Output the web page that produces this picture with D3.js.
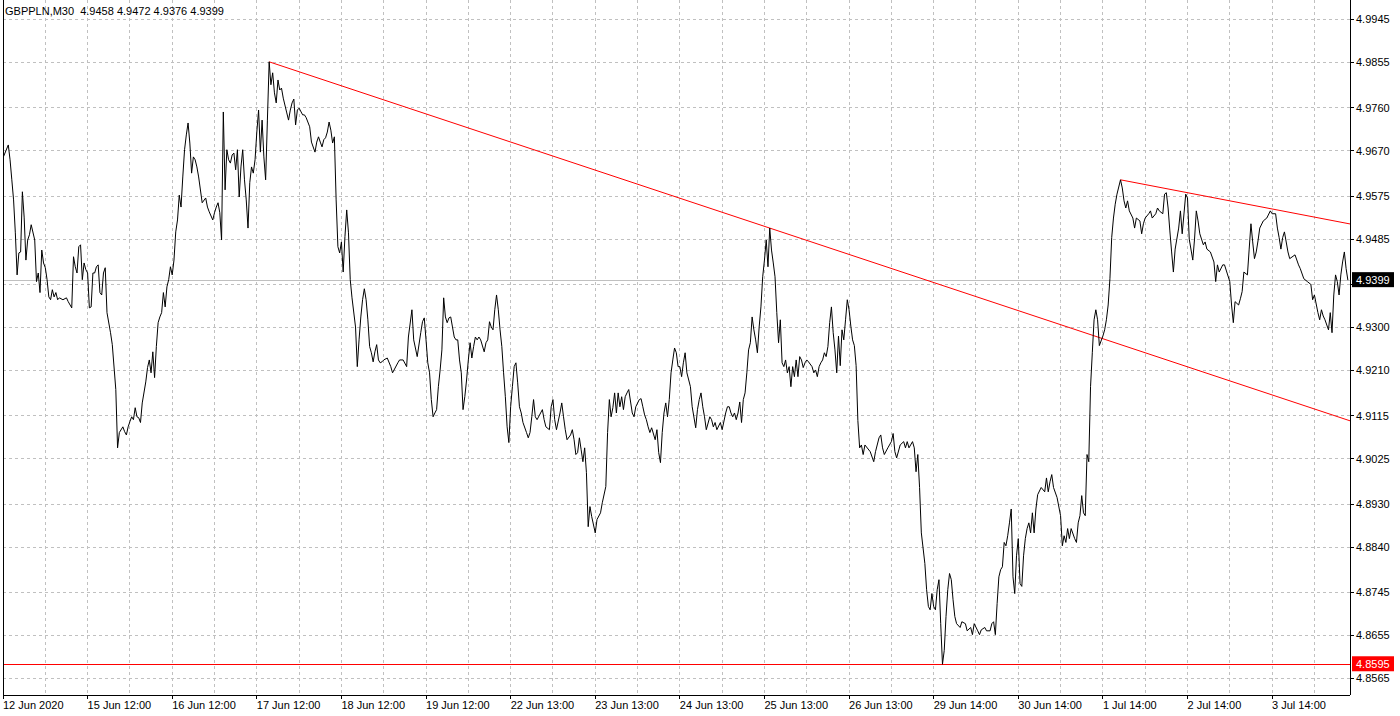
<!DOCTYPE html>
<html lang="en">
<head>
<meta charset="utf-8">
<title>GBPPLN,M30</title>
<script src="https://d3js.org/d3.v7.min.js"></script>
<style>
  body { margin: 0; background: #fff; }
  svg { display: block; font-family: "Liberation Sans", Arial, sans-serif; font-size: 11px; }
  .grid line { stroke: #c0c0c0; stroke-width: 1; stroke-dasharray: 3,3; shape-rendering: crispEdges; }
  .frame line, .ticks line { stroke: #000; stroke-width: 1; shape-rendering: crispEdges; }
  .bid { stroke: #c0c0c0; stroke-width: 1; shape-rendering: crispEdges; }
  .series { fill: none; stroke: #000; stroke-width: 1; }
  .trend { stroke: #ff0000; stroke-width: 1; fill: none; }
  .level { stroke: #ff0000; stroke-width: 1; shape-rendering: crispEdges; }
  .lbl { fill: #000; }
  .title { white-space: pre; }
</style>
</head>
<body>
<div id="vis"></div>
<script>

/* Data */
/* ==== */

const symbolTitle = "GBPPLN,M30  4.9458 4.9472 4.9376 4.9399";

// M30 bar number (0 = first visible bar) and close price
const barIndex = [
  0,3,4,5,6,7,8,9,10,11,12,13,14,15,16,18,19,20,21,22,23,24,25,26,27,28,29,30,31,32,34,36,37,39,40,41,42,43,44,45,46,47,48,49,
  50,51,52,53,54,55,56,57,58,59,61,62,64,65,66,68,69,70,71,72,73,74,75,76,77,78,79,81,82,83,84,85,86,87,88,89,90,91,92,93,94,95,96,97,98,99,
  100,101,102,103,104,105,106,107,108,109,110,111,113,115,116,117,119,120,121,122,123,124,125,126,127,128,129,130,131,132,133,134,135,136,137,138,139,140,141,142,143,144,145,146,147,148,149,
  150,151,152,153,154,155,156,157,158,159,161,162,163,164,165,166,167,168,170,171,172,174,175,177,178,179,180,181,182,183,184,185,186,187,188,189,190,191,192,193,194,195,196,197,198,
  200,201,202,203,204,205,206,207,208,209,210,211,212,213,214,215,216,218,220,221,224,225,227,229,230,232,233,235,237,238,239,240,241,242,243,244,245,246,247,248,249,
  250,251,252,253,254,255,256,257,258,259,260,261,262,263,264,265,266,267,268,269,270,271,273,274,275,276,277,278,279,280,281,282,283,284,285,286,287,288,289,290,291,292,293,294,295,297,298,299,
  300,301,302,303,305,306,307,308,310,311,312,313,314,316,317,318,319,320,322,323,324,325,326,327,328,329,330,331,332,333,334,336,337,339,340,342,343,344,345,346,347,348,349,
  350,351,352,353,354,355,357,358,359,361,362,363,364,365,366,367,368,370,371,372,373,374,375,376,377,378,379,380,381,382,383,384,385,386,387,388,390,391,393,394,395,396,397,398,399,
  401,402,403,404,405,407,408,410,411,412,413,414,415,416,417,418,419,420,421,422,423,424,425,426,427,428,429,430,431,432,433,434,435,436,437,438,439,440,441,442,443,444,445,446,447,448,449,
  450,451,452,453,454,455,456,457,459,460,461,462,463,464,465,466,467,468,469,470,471,472,473,474,475,476,477,478,479,480,481,482,483,484,485,486,487,488,489,492,494,495,497,498,499,
  500,502,504,505,506,507,509,511,512,513,514,516,517,518,519,520,521,523,524,525,526,527,528,529,530,531,532,533,534,535,536,537,538,539,540,541,543,544,546,547,549,
  550,551,553,554,555,557,558,560,561,562,563,564,565,566,567,568,569,570,571,572,573,574,575,576,577,578,579,580,581,582,583,584,585,586,587,589,591,592,593,594,595,596,598,
  600,601,602,603,604,605,606,608,609,610,611,612,613,614,615,616,617,618,619,620,621,622,624,625,626,627,628,629,630,631,632,634,635,636,637,638,639,641,642,643,645,646,647,648,
  650,651,652,654,655,656,658,659,660,661,662,663,664,665,667,668,669,671,672,673,675,676,677,678,679,681,682,683,685,687,688,689,690,692,693,696,697,698,699,
  701,702,703,704,706,707,708,709,710,711,712,713,715,717,719,720,722,723,724,725,726,727,729,730,733,735,736,738,740,742,743,744,746,747,748,749,
  750,752,753,754,755,756,757,758,759,760,761,762,763
];

const closePrice = [
  4.9655,4.9682,4.9651,4.9609,4.9567,4.9498,4.9410,4.9456,4.9458,4.9584,4.9531,4.9441,4.9483,4.9494,4.9515,4.9483,4.9396,4.9414,4.9373,4.9462,4.9435,4.9425,4.9400,4.9364,4.9358,4.9379,4.9364,4.9373,4.9358,4.9362,4.9358,4.9362,4.9354,4.9341,4.9448,4.9427,4.9414,4.9469,4.9473,4.9400,4.9435,4.9421,4.9414,4.9341,
  4.9343,4.9414,4.9414,4.9427,4.9431,4.9373,4.9368,4.9414,4.9425,4.9331,4.9289,4.9264,4.9170,4.9048,4.9080,4.9092,4.9082,4.9075,4.9092,4.9103,4.9113,4.9107,4.9132,4.9113,4.9111,4.9101,4.9142,4.9186,4.9216,4.9232,4.9205,4.9249,4.9195,4.9260,4.9310,4.9322,4.9331,4.9373,4.9343,4.9385,4.9400,4.9427,4.9410,4.9441,4.9500,4.9525,
  4.9577,4.9552,4.9615,4.9672,4.9703,4.9728,4.9686,4.9623,4.9657,4.9651,4.9636,4.9615,4.9561,4.9571,4.9552,4.9542,4.9525,4.9540,4.9552,4.9561,4.9540,4.9483,4.9751,4.9588,4.9672,4.9651,4.9644,4.9661,4.9665,4.9630,4.9672,4.9573,4.9636,4.9672,4.9609,4.9567,4.9508,4.9603,4.9636,4.9623,4.9651,4.9709,4.9755,4.9667,4.9734,4.9657,4.9609,
  4.9734,4.9856,4.9808,4.9833,4.9791,4.9770,4.9818,4.9797,4.9801,4.9780,4.9749,4.9734,4.9755,4.9770,4.9778,4.9724,4.9755,4.9759,4.9745,4.9745,4.9739,4.9720,4.9688,4.9667,4.9688,4.9699,4.9688,4.9678,4.9693,4.9697,4.9709,4.9730,4.9713,4.9686,4.9699,4.9567,4.9469,4.9456,4.9479,4.9416,4.9490,4.9546,4.9498,4.9400,4.9362,
  4.9301,4.9218,4.9274,4.9322,4.9358,4.9381,4.9358,4.9316,4.9260,4.9247,4.9228,4.9249,4.9264,4.9232,4.9226,4.9228,4.9232,4.9236,4.9218,4.9205,4.9226,4.9232,4.9232,4.9218,4.9280,4.9337,4.9274,4.9239,4.9289,4.9312,4.9320,4.9274,4.9226,4.9205,4.9149,4.9113,4.9121,4.9128,4.9176,4.9211,4.9253,
  4.9362,4.9322,4.9310,4.9320,4.9322,4.9301,4.9280,4.9274,4.9274,4.9232,4.9205,4.9128,4.9155,4.9190,4.9232,4.9268,4.9236,4.9260,4.9280,4.9274,4.9280,4.9274,4.9249,4.9268,4.9274,4.9312,4.9301,4.9295,4.9337,4.9368,4.9337,4.9295,4.9260,4.9205,4.9155,4.9092,4.9059,4.9134,4.9176,4.9218,4.9226,4.9184,4.9134,4.9121,4.9101,4.9080,4.9069,4.9080,
  4.9113,4.9149,4.9113,4.9107,4.9121,4.9128,4.9107,4.9092,4.9086,4.9134,4.9149,4.9107,4.9086,4.9121,4.9142,4.9113,4.9086,4.9065,4.9075,4.9086,4.9065,4.9034,4.9038,4.9069,4.9044,4.9019,4.9048,4.8996,4.8883,4.8925,4.8904,4.8870,4.8898,4.8912,4.8933,4.8967,4.9080,4.9149,4.9113,4.9132,4.9163,4.9121,4.9163,
  4.9134,4.9155,4.9128,4.9155,4.9163,4.9170,4.9121,4.9113,4.9134,4.9149,4.9151,4.9134,4.9117,4.9107,4.9092,4.9080,4.9090,4.9065,4.9086,4.9038,4.9017,4.9080,4.9121,4.9142,4.9113,4.9149,4.9205,4.9232,4.9257,4.9247,4.9218,4.9218,4.9197,4.9226,4.9247,4.9205,4.9176,4.9134,4.9090,4.9128,4.9149,4.9163,4.9134,4.9113,4.9086,
  4.9113,4.9107,4.9092,4.9101,4.9086,4.9101,4.9086,4.9121,4.9134,4.9134,4.9121,4.9113,4.9121,4.9107,4.9121,4.9144,4.9101,4.9149,4.9163,4.9205,4.9253,4.9268,4.9322,4.9295,4.9274,4.9247,4.9301,4.9343,4.9406,4.9441,4.9483,4.9427,4.9508,4.9462,4.9435,4.9406,4.9331,4.9268,4.9316,4.9226,4.9218,4.9232,4.9205,4.9218,4.9176,4.9218,4.9197,
  4.9232,4.9197,4.9239,4.9232,4.9216,4.9226,4.9232,4.9228,4.9218,4.9205,4.9211,4.9197,4.9218,4.9226,4.9232,4.9247,4.9239,4.9260,4.9310,4.9343,4.9289,4.9253,4.9205,4.9282,4.9220,4.9295,4.9274,4.9316,4.9358,4.9337,4.9303,4.9274,4.9262,4.9220,4.9105,4.9048,4.9054,4.9034,4.9054,4.9040,4.9019,4.9040,4.9069,4.9075,4.9048,
  4.9034,4.9048,4.9061,4.9078,4.9040,4.9027,4.9054,4.9061,4.9048,4.9061,4.9048,4.9061,4.9048,4.8998,4.9034,4.8965,4.8870,4.8806,4.8751,4.8716,4.8709,4.8743,4.8716,4.8709,4.8751,4.8772,4.8680,4.8595,4.8624,4.8695,4.8751,4.8785,4.8772,4.8730,4.8695,4.8680,4.8672,4.8684,4.8680,4.8665,4.8672,
  4.8657,4.8680,4.8665,4.8657,4.8667,4.8672,4.8665,4.8665,4.8680,4.8684,4.8657,4.8722,4.8778,4.8793,4.8799,4.8850,4.8843,4.8864,4.8891,4.8920,4.8778,4.8743,4.8822,4.8858,4.8764,4.8758,4.8822,4.8858,4.8879,4.8891,4.8870,4.8912,4.8870,4.8920,4.8950,4.8965,4.8956,4.8985,4.8956,4.8977,4.8992,4.8965,4.8944,
  4.8906,4.8843,4.8864,4.8850,4.8879,4.8858,4.8879,4.8858,4.8850,4.8891,4.8906,4.8948,4.8912,4.8906,4.9034,4.9019,4.9176,4.9247,4.9316,4.9337,4.9316,4.9262,4.9282,4.9295,4.9316,4.9347,4.9402,4.9488,4.9529,4.9558,4.9579,4.9609,4.9592,4.9565,4.9550,4.9565,4.9544,4.9529,4.9508,4.9529,4.9523,4.9496,4.9517,4.9529,
  4.9538,4.9544,4.9529,4.9538,4.9550,4.9544,4.9538,4.9579,4.9582,4.9550,4.9502,4.9458,4.9416,4.9464,4.9508,4.9544,4.9496,4.9579,4.9571,4.9485,4.9441,4.9485,4.9544,4.9523,4.9496,4.9473,4.9479,4.9464,4.9458,4.9437,4.9396,4.9431,4.9416,4.9431,4.9431,4.9396,4.9347,4.9310,4.9354,
  4.9347,4.9360,4.9375,4.9416,4.9410,4.9464,4.9517,4.9479,4.9444,4.9458,4.9481,4.9508,4.9523,4.9529,4.9544,4.9538,4.9538,4.9508,4.9488,4.9464,4.9488,4.9500,4.9458,4.9444,4.9452,4.9431,4.9423,4.9402,4.9396,4.9390,4.9358,4.9368,4.9331,4.9316,4.9337,4.9324,
  4.9316,4.9295,4.9331,4.9289,4.9368,4.9410,4.9396,4.9368,4.9410,4.9437,4.9458,4.9423,4.9399
];

// Time axis labels, one every 48 bars
const timeLabels = [
  "12 Jun 2020", "15 Jun 12:00", "16 Jun 12:00", "17 Jun 12:00", "18 Jun 12:00", "19 Jun 12:00",
  "22 Jun 13:00", "23 Jun 13:00", "24 Jun 13:00", "25 Jun 13:00", "26 Jun 13:00", "29 Jun 14:00",
  "30 Jun 14:00", "1 Jul 14:00", "2 Jul 14:00", "3 Jul 14:00"
];
const barsPerLabel = 48;
const barsPerGrid = 24;

// Price scale ticks
const priceTicks = [4.9945, 4.9855, 4.9760, 4.9670, 4.9575, 4.9485, 4.9390, 4.9300,
  4.9210, 4.9115, 4.9025, 4.8930, 4.8840, 4.8745, 4.8655, 4.8565];

// Objects drawn on the chart
const bidPrice = 4.9399;
const levelPrice = 4.8595;
const trendA = [[151, 4.9856], [435, 4.9508]];   // 17 Jun high -> 25 Jun high
const trendB = [[634, 4.9609], [720, 4.9548]];   // 1 Jul high -> 3 Jul high

const visibleBars = 764.2;


/* Set up */
/* ====== */

const width = 1400, height = 716;
const plot = { left: 3, right: 1350, top: 0, bottom: 695 };

const svg = d3.select('#vis').append('svg')
  .attr('width', width)
  .attr('height', height);

const x = d3.scaleLinear().domain([0, visibleBars]).range([plot.left, plot.right]);
const y = d3.scaleLinear().domain([4.8565, 4.9945]).range([678.6, 19.3]);

const series = barIndex.map((b, i) => ({ bar: b, close: closePrice[i] }));

svg.append('defs').append('clipPath').attr('id', 'clip')
  .append('rect')
  .attr('x', plot.left).attr('y', plot.top)
  .attr('width', plot.right - plot.left).attr('height', plot.bottom - plot.top);


/* Grid */
/* ---- */

const grid = svg.append('g').attr('class', 'grid');

grid.selectAll('.gy').data(priceTicks).enter()
  .append('line')
  .attr('x1', plot.left).attr('x2', plot.right)
  .attr('y1', d => y(d)).attr('y2', d => y(d));

const gridBars = d3.range(barsPerGrid, visibleBars, barsPerGrid);
grid.selectAll('.gx').data(gridBars).enter()
  .append('line')
  .attr('x1', d => x(d)).attr('x2', d => x(d))
  .attr('y1', plot.top).attr('y2', plot.bottom);

// bid line
svg.append('line').attr('class', 'bid')
  .attr('x1', plot.left).attr('x2', plot.right)
  .attr('y1', y(bidPrice)).attr('y2', y(bidPrice));


/* Price line and objects */
/* ---------------------- */

const gChart = svg.append('g').attr('clip-path', 'url(#clip)');

gChart.append('line').attr('class', 'level')
  .attr('x1', plot.left).attr('x2', plot.right)
  .attr('y1', y(levelPrice)).attr('y2', y(levelPrice));

// trend lines run as rays to the right edge
function rayEnd(p) {
  const slope = (p[1][1] - p[0][1]) / (p[1][0] - p[0][0]);
  return [visibleBars, p[0][1] + slope * (visibleBars - p[0][0])];
}
[trendA, trendB].forEach(t => {
  const e = rayEnd(t);
  gChart.append('line').attr('class', 'trend')
    .attr('x1', x(t[0][0])).attr('y1', y(t[0][1]))
    .attr('x2', x(e[0])).attr('y2', y(e[1]));
});

const line = d3.line()
  .x(d => x(d.bar))
  .y(d => y(d.close));

gChart.append('path').datum(series)
  .attr('class', 'series')
  .attr('d', line);


/* Frame and axes */
/* -------------- */

const frame = svg.append('g').attr('class', 'frame');
frame.append('line').attr('x1', plot.left).attr('x2', plot.left).attr('y1', plot.top).attr('y2', plot.bottom);
frame.append('line').attr('x1', plot.right).attr('x2', plot.right).attr('y1', plot.top).attr('y2', plot.bottom);
frame.append('line').attr('x1', plot.left).attr('x2', plot.right).attr('y1', plot.bottom).attr('y2', plot.bottom);

const ticks = svg.append('g').attr('class', 'ticks');

// price axis
const bidY = y(bidPrice);
ticks.selectAll('.ty').data(priceTicks).enter()
  .append('line')
  .attr('x1', plot.right).attr('x2', plot.right + 4)
  .attr('y1', d => y(d)).attr('y2', d => y(d));

svg.append('g').selectAll('text')
  .data(priceTicks.filter(d => Math.abs(y(d) - bidY) > 9))
  .enter().append('text')
  .attr('class', 'lbl')
  .attr('x', plot.right + 6)
  .attr('y', d => y(d))
  .attr('dy', '0.35em')
  .text(d => d3.format('.4f')(d));

// time axis
const labelBars = timeLabels.map((t, i) => i * barsPerLabel);
ticks.selectAll('.tx').data(labelBars).enter()
  .append('line')
  .attr('x1', d => x(d)).attr('x2', d => x(d))
  .attr('y1', plot.bottom).attr('y2', plot.bottom + 4);

svg.append('g').selectAll('text')
  .data(timeLabels)
  .enter().append('text')
  .attr('class', 'lbl')
  .attr('x', (d, i) => x(labelBars[i]))
  .attr('y', 709)
  .text(d => d);

// price boxes
function priceBox(price, fill) {
  const g = svg.append('g');
  g.append('rect')
    .attr('x', plot.right + 2).attr('y', y(price) - 8)
    .attr('width', 42).attr('height', 15)
    .attr('fill', fill);
  g.append('text')
    .attr('x', plot.right + 6).attr('y', y(price))
    .attr('dy', '0.35em')
    .attr('fill', '#fff')
    .text(d3.format('.4f')(price));
}
priceBox(bidPrice, '#000');
priceBox(levelPrice, '#ff0000');

// title
svg.append('text')
  .attr('class', 'lbl title')
  .attr('x', 5).attr('y', 15)
  .text(symbolTitle);

</script>
</body>
</html>
